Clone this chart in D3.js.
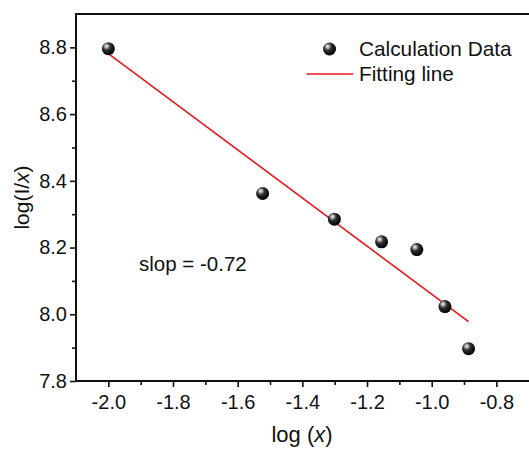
<!DOCTYPE html>
<html><head><meta charset="utf-8">
<script src="https://cdn.jsdelivr.net/npm/d3@7"></script>
<style>
html,body{margin:0;padding:0;background:#fff;overflow:hidden;}
svg{display:block;font-family:Arial,"Liberation Sans",sans-serif;}
</style></head>
<body>
<svg id="chart" width="529" height="450"></svg>
<script>
const xData = [-2.0, -1.523, -1.301, -1.155, -1.046, -0.959, -0.886];
const yData = [8.796, 8.362, 8.285, 8.217, 8.194, 8.023, 7.897];
const fitX = [-2.0, -0.886];
const fitY = [8.781, 7.978];
const xMajorTicks = [-2.0, -1.8, -1.6, -1.4, -1.2, -1.0, -0.8];
const xMinorTicks = [-1.9, -1.7, -1.5, -1.3, -1.1, -0.9];
const yMajorTicks = [7.8, 8.0, 8.2, 8.4, 8.6, 8.8];
const yMinorTicks = [7.9, 8.1, 8.3, 8.5, 8.7];
const slopeLabel = "slop = -0.72";
const legendLabels = ["Calculation Data", "Fitting line"];

const svg = d3.select("#chart");
const L = 76, R = 528.7, T = 14, B = 381;
const x = d3.scaleLinear().domain([-2.1, -0.7]).range([L, R]);
const y = d3.scaleLinear().domain([7.8, 8.9]).range([B, T]);

const defs = svg.append("defs");
const g = defs.append("radialGradient").attr("id","ball")
  .attr("cx","38%").attr("cy","35%").attr("r","65%").attr("fx","35%").attr("fy","30%");
g.append("stop").attr("offset","0%").attr("stop-color","#ffffff");
g.append("stop").attr("offset","18%").attr("stop-color","#b0b0b0");
g.append("stop").attr("offset","45%").attr("stop-color","#303030");
g.append("stop").attr("offset","100%").attr("stop-color","#000000");

// minor ticks
svg.append("g").attr("transform",`translate(0,${B})`)
  .call(d3.axisBottom(x).tickValues(xMinorTicks).tickSize(4).tickFormat(""))
  .call(s=>{s.select(".domain").remove(); s.selectAll("line").attr("stroke","#111").attr("stroke-width",1.6);});
svg.append("g").attr("transform",`translate(${L},0)`)
  .call(d3.axisLeft(y).tickValues(yMinorTicks).tickSize(4).tickFormat(""))
  .call(s=>{s.select(".domain").remove(); s.selectAll("line").attr("stroke","#111").attr("stroke-width",1.6);});

// major ticks
const xa = svg.append("g").attr("transform",`translate(0,${B})`)
  .call(d3.axisBottom(x).tickValues(xMajorTicks).tickSize(6).tickPadding(8).tickFormat(d3.format(".1f")));
xa.select(".domain").remove();
xa.selectAll("line").attr("stroke","#111").attr("stroke-width",1.6);
xa.selectAll("text").attr("font-size",20).attr("fill","#111")
  .attr("font-family","Arial, 'Liberation Sans', sans-serif").text(d=>d3.format(".1f")(d).replace("−","-"));

const ya = svg.append("g").attr("transform",`translate(${L},0)`)
  .call(d3.axisLeft(y).tickValues(yMajorTicks).tickSize(6).tickPadding(3).tickFormat(d3.format(".1f")));
ya.select(".domain").remove();
ya.selectAll("line").attr("stroke","#111").attr("stroke-width",1.6);
ya.selectAll("text").attr("font-size",20).attr("fill","#111")
  .attr("font-family","Arial, 'Liberation Sans', sans-serif");

// frame: left, top, bottom (right side runs off the visible area, as in the reference)
svg.append("path")
  .attr("d",`M${R+20},${T}H${L}V${B}H${R+20}`)
  .attr("fill","none").attr("stroke","#111").attr("stroke-width",2);

// fit line
svg.append("line")
  .attr("x1",x(fitX[0])).attr("y1",y(fitY[0])).attr("x2",x(fitX[1])).attr("y2",y(fitY[1]))
  .attr("stroke","#e8181c").attr("stroke-width",1.6);

// points
svg.append("g").selectAll("circle").data(xData.map((d,i)=>[d,yData[i]])).join("circle")
  .attr("cx",d=>x(d[0])).attr("cy",d=>y(d[1])).attr("r",6.5).attr("fill","url(#ball)");

// legend
svg.append("circle").attr("cx",329.5).attr("cy",49).attr("r",6.5).attr("fill","url(#ball)");
svg.append("text").attr("x",359).attr("y",55.5).attr("font-size",20.8).attr("fill","#111").text(legendLabels[0]);
svg.append("line").attr("x1",306.5).attr("x2",353.5).attr("y1",74).attr("y2",74)
  .attr("stroke","#e8181c").attr("stroke-width",1.6);
svg.append("text").attr("x",359).attr("y",81).attr("font-size",20.8).attr("fill","#111").text(legendLabels[1]);

// annotation
svg.append("text").attr("x",139).attr("y",271).attr("font-size",20.5).attr("fill","#111").text(slopeLabel);

// axis titles
const xt = svg.append("text").attr("x",302).attr("y",442).attr("text-anchor","middle")
  .attr("font-size",22).attr("fill","#111");
xt.append("tspan").text("log (");
xt.append("tspan").attr("font-style","italic").text("x");
xt.append("tspan").text(")");

const yt = svg.append("text").attr("transform","translate(29,197.5) rotate(-90)").attr("text-anchor","middle")
  .attr("font-size",21).attr("fill","#111");
yt.append("tspan").text("log(I/");
yt.append("tspan").attr("font-style","italic").text("x");
yt.append("tspan").text(")");
</script>
</body></html>
